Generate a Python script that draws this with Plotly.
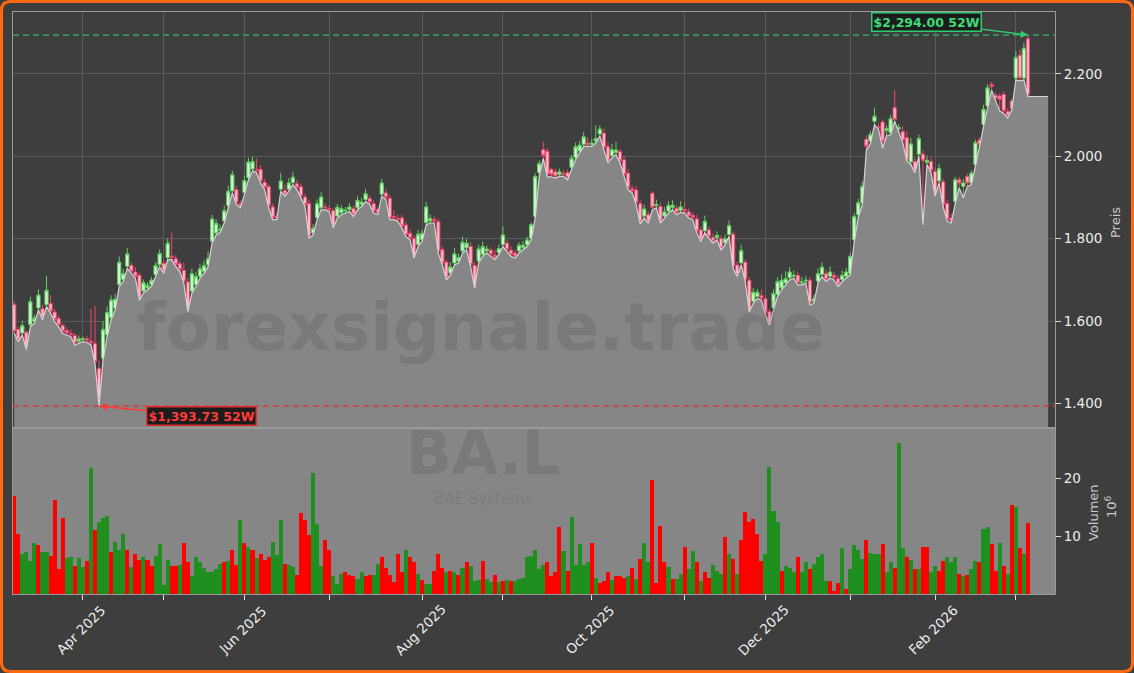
import pandas as pd
import plotly.graph_objects as go

# ---------------- data ----------------
START = "2025-03-07"
UK_HOLIDAYS = ["2025-04-18", "2025-04-21", "2025-05-05", "2025-05-26",
               "2025-08-25", "2025-12-25", "2025-12-26", "2026-01-01"]

# daily lows (the grey area traces them)
low = [
    1571, 1550, 1566, 1531, 1586, 1595, 1627, 1603, 1635, 1619,
    1599, 1586, 1570, 1566, 1562, 1542, 1546, 1550, 1548, 1542,
    1497, 1393.73, 1505, 1562, 1603, 1627, 1684, 1696, 1728, 1716,
    1704, 1651, 1668, 1676, 1684, 1708, 1732, 1716, 1749, 1749,
    1732, 1720, 1692, 1623, 1668, 1684, 1704, 1716, 1732, 1789,
    1809, 1815, 1838, 1875, 1911, 1883, 1875, 1907, 1943, 1964,
    1960, 1935, 1919, 1875, 1846, 1846, 1915, 1903, 1915, 1931,
    1919, 1899, 1878, 1801, 1809, 1846, 1870, 1870, 1866, 1826,
    1850, 1858, 1862, 1866, 1854, 1870, 1878, 1890, 1883, 1862,
    1858, 1903, 1895, 1846, 1846, 1842, 1826, 1805, 1797, 1753,
    1781, 1793, 1834, 1838, 1838, 1765, 1736, 1700, 1712, 1736,
    1741, 1765, 1773, 1732, 1680, 1741, 1757, 1765, 1757, 1749,
    1761, 1781, 1769, 1757, 1753, 1765, 1773, 1781, 1798, 1850,
    1950, 1995, 1950, 1950, 1947, 1951, 1951, 1943, 1968, 1992,
    2008, 2024, 2024, 2024, 2032, 2049, 2016, 1984, 1996, 2004,
    1984, 1951, 1919, 1911, 1882, 1836, 1850, 1838, 1870, 1875,
    1838, 1850, 1862, 1870, 1858, 1864, 1862, 1850, 1846, 1814,
    1793, 1814, 1801, 1789, 1797, 1773, 1785, 1805, 1728, 1708,
    1736, 1696, 1623, 1643, 1655, 1651, 1615, 1590, 1627, 1660,
    1676, 1688, 1700, 1704, 1688, 1688, 1692, 1639, 1643, 1692,
    1708, 1696, 1704, 1700, 1684, 1696, 1704, 1712, 1792, 1852,
    1882, 2015, 2030, 2077, 2065, 2020, 2049, 2052, 2085, 2057,
    2033, 1988, 1980, 1960, 2000, 1834, 1980, 1960, 1903, 1935,
    1878, 1842, 1838, 1885, 1923, 1899, 1927, 1931, 1975, 2022,
    2072, 2115, 2160, 2135, 2110, 2104, 2093, 2112, 2185, 2183,
    2185, 2145,
]
# last value carried over the final sessions (area only, no candles)
low_tail = [2145, 2145, 2145, 2145, 2145]

open_ = [
    1640, 1580, 1571, 1573, 1591, 1600, 1632, 1630, 1640, 1643,
    1622, 1606, 1589, 1577, 1570, 1565, 1551, 1555, 1557, 1551,
    1545, 1485, 1510, 1567, 1608, 1632, 1689, 1701, 1733, 1735,
    1719, 1711, 1673, 1681, 1689, 1713, 1737, 1740, 1754, 1757,
    1751, 1739, 1723, 1695, 1673, 1689, 1709, 1721, 1737, 1794,
    1814, 1820, 1843, 1880, 1916, 1919, 1885, 1912, 1948, 1969,
    1967, 1968, 1937, 1926, 1877, 1854, 1920, 1917, 1920, 1936,
    1933, 1926, 1901, 1885, 1814, 1851, 1875, 1877, 1873, 1868,
    1855, 1863, 1867, 1871, 1873, 1875, 1883, 1895, 1897, 1885,
    1870, 1908, 1911, 1898, 1854, 1849, 1850, 1833, 1813, 1800,
    1786, 1798, 1839, 1843, 1846, 1841, 1773, 1743, 1717, 1741,
    1746, 1770, 1778, 1781, 1735, 1746, 1762, 1770, 1772, 1760,
    1766, 1786, 1789, 1772, 1765, 1770, 1778, 1786, 1801, 1854,
    1960, 2016, 2012, 1968, 1962, 1956, 1958, 1960, 1973, 1997,
    2013, 2029, 2032, 2029, 2037, 2054, 2056, 2023, 2001, 2009,
    2011, 1991, 1959, 1921, 1918, 1885, 1855, 1858, 1910, 1880,
    1878, 1855, 1867, 1875, 1873, 1869, 1871, 1865, 1857, 1848,
    1821, 1819, 1821, 1803, 1802, 1800, 1790, 1810, 1811, 1736,
    1741, 1743, 1699, 1648, 1660, 1662, 1654, 1623, 1632, 1665,
    1681, 1693, 1705, 1709, 1711, 1693, 1697, 1699, 1648, 1697,
    1713, 1715, 1709, 1711, 1703, 1701, 1709, 1716, 1797, 1858,
    1887, 2041, 2037, 2085, 2071, 2083, 2063, 2057, 2118, 2066,
    2060, 2045, 1986, 1987, 2005, 2005, 1985, 1987, 1963, 1940,
    1938, 1885, 1850, 1890, 1943, 1927, 1951, 1935, 1980, 2039,
    2077, 2122, 2174, 2148, 2146, 2150, 2109, 2134, 2190, 2245,
    2190, 2285,
]

close = [
    1576, 1555, 1589, 1536, 1647, 1607, 1663, 1608, 1675, 1624,
    1604, 1591, 1575, 1571, 1567, 1547, 1557, 1557, 1553, 1547,
    1502, 1410, 1580, 1621, 1651, 1653, 1743, 1715, 1763, 1721,
    1709, 1656, 1693, 1687, 1699, 1735, 1764, 1721, 1789, 1754,
    1737, 1725, 1697, 1628, 1715, 1708, 1727, 1735, 1751, 1848,
    1837, 1823, 1868, 1915, 1955, 1888, 1880, 1941, 1986, 1987,
    1965, 1940, 1924, 1880, 1851, 1851, 1940, 1908, 1935, 1949,
    1924, 1904, 1883, 1806, 1825, 1885, 1901, 1875, 1871, 1831,
    1876, 1873, 1869, 1877, 1859, 1893, 1889, 1909, 1888, 1867,
    1863, 1935, 1900, 1851, 1851, 1847, 1831, 1810, 1802, 1758,
    1811, 1813, 1877, 1849, 1843, 1770, 1741, 1705, 1731, 1763,
    1754, 1791, 1789, 1737, 1685, 1775, 1781, 1775, 1762, 1754,
    1776, 1809, 1774, 1762, 1758, 1784, 1784, 1797, 1834, 1951,
    1982, 2002, 1956, 1956, 1952, 1962, 1956, 1948, 1995, 2023,
    2027, 2047, 2029, 2032, 2043, 2066, 2021, 1989, 2016, 2015,
    1989, 1956, 1924, 1916, 1887, 1841, 1872, 1843, 1876, 1883,
    1843, 1865, 1881, 1881, 1863, 1877, 1867, 1855, 1851, 1819,
    1798, 1842, 1806, 1794, 1808, 1778, 1800, 1832, 1733, 1713,
    1771, 1701, 1628, 1670, 1670, 1656, 1620, 1595, 1667, 1696,
    1699, 1703, 1719, 1711, 1693, 1695, 1699, 1644, 1654, 1715,
    1731, 1701, 1719, 1705, 1689, 1711, 1719, 1757, 1854, 1887,
    1927, 2024, 2053, 2097, 2069, 2037, 2067, 2091, 2089, 2070,
    2038, 1990, 2030, 1965, 2043, 1990, 1990, 1965, 1908, 1970,
    1883, 1847, 1843, 1943, 1935, 1935, 1935, 1959, 2033, 2028,
    2114, 2166, 2169, 2140, 2138, 2110, 2098, 2115, 2240, 2190,
    2262, 2150,
]

high = [
    1648, 1586, 1601, 1577, 1659, 1615, 1677, 1640, 1710, 1663,
    1630, 1614, 1595, 1585, 1580, 1571, 1565, 1563, 1565, 1630,
    1637, 1505, 1600, 1636, 1663, 1666, 1757, 1727, 1777, 1743,
    1731, 1717, 1701, 1695, 1707, 1743, 1774, 1748, 1801, 1815,
    1761, 1747, 1743, 1705, 1727, 1720, 1739, 1747, 1769, 1858,
    1847, 1835, 1880, 1929, 1965, 1927, 1893, 1953, 1996, 1999,
    1995, 1978, 1945, 1932, 1885, 1862, 1960, 1931, 1947, 1963,
    1943, 1934, 1909, 1895, 1835, 1895, 1913, 1885, 1881, 1874,
    1884, 1881, 1877, 1887, 1881, 1903, 1899, 1921, 1905, 1893,
    1876, 1945, 1921, 1906, 1868, 1859, 1858, 1841, 1823, 1808,
    1821, 1823, 1889, 1859, 1854, 1849, 1781, 1749, 1743, 1777,
    1764, 1805, 1800, 1791, 1743, 1785, 1793, 1783, 1780, 1774,
    1786, 1830, 1797, 1782, 1773, 1792, 1794, 1805, 1840, 1959,
    1990, 2035, 2020, 1972, 1970, 1970, 1966, 1968, 2003, 2033,
    2037, 2059, 2046, 2042, 2075, 2075, 2068, 2033, 2030, 2035,
    2019, 2001, 1969, 1929, 1928, 1893, 1882, 1866, 1915, 1895,
    1886, 1877, 1891, 1893, 1881, 1891, 1889, 1873, 1863, 1858,
    1829, 1856, 1829, 1813, 1818, 1808, 1810, 1844, 1817, 1744,
    1785, 1749, 1707, 1680, 1678, 1676, 1662, 1631, 1677, 1706,
    1713, 1721, 1731, 1723, 1719, 1707, 1709, 1707, 1664, 1728,
    1743, 1725, 1733, 1721, 1711, 1723, 1729, 1765, 1862, 1897,
    1939, 2050, 2061, 2118, 2080, 2090, 2075, 2100, 2160, 2078,
    2074, 2060, 2045, 1997, 2053, 2015, 2002, 1997, 1973, 1982,
    1946, 1895, 1860, 1950, 1950, 1945, 1958, 1966, 2040, 2045,
    2125, 2175, 2180, 2155, 2152, 2158, 2117, 2140, 2255, 2258,
    2276, 2294.00,
]

# volume in millions of shares; G = up day, R = down day
volume = [
    16.9, 10.4, 7.0, 7.4, 5.8, 8.9, 8.6, 7.4, 7.4, 6.7,
    16.3, 4.4, 13.2, 6.3, 6.6, 5.0, 6.4, 4.8, 5.9, 21.7,
    11.1, 12.6, 13.2, 13.6, 7.4, 9.1, 7.7, 10.4, 7.8, 4.8,
    7.1, 6.1, 6.6, 6.1, 5.0, 6.7, 8.7, 1.7, 6.1, 5.0,
    5.0, 5.2, 9.0, 5.6, 3.2, 6.6, 5.7, 4.6, 3.9, 3.9,
    4.4, 5.4, 5.6, 5.9, 7.8, 5.2, 12.8, 8.9, 8.2, 7.7,
    6.3, 7.0, 6.1, 6.6, 9.1, 6.9, 12.8, 5.3, 5.1, 4.8,
    3.4, 14.0, 12.8, 10.3, 20.9, 12.1, 5.0, 9.5, 7.8, 3.2,
    1.9, 3.7, 4.0, 3.5, 3.2, 2.8, 4.0, 3.2, 3.5, 3.5,
    5.4, 6.6, 4.7, 3.5, 2.2, 7.0, 3.9, 7.7, 6.6, 5.6,
    3.7, 2.6, 1.9, 1.9, 4.2, 7.1, 4.7, 3.9, 4.2, 3.9,
    3.5, 4.6, 5.6, 5.0, 2.5, 2.6, 5.8, 2.8, 2.2, 3.5,
    2.2, 2.5, 2.6, 2.5, 2.5, 2.8, 2.9, 6.6, 6.7, 7.8,
    4.5, 5.2, 5.6, 3.2, 4.0, 11.6, 7.6, 4.2, 13.3, 5.1,
    8.7, 5.2, 5.6, 9.0, 3.0, 2.1, 2.5, 3.9, 2.6, 3.2,
    3.3, 3.0, 3.3, 4.7, 2.8, 6.2, 9.0, 5.7, 19.7, 2.1,
    11.8, 5.7, 4.9, 2.8, 2.8, 3.7, 8.3, 4.5, 7.6, 5.6,
    2.5, 4.0, 3.0, 5.2, 4.2, 3.7, 10.0, 7.0, 6.2, 3.7,
    9.4, 14.2, 12.5, 13.1, 10.5, 5.9, 7.0, 21.9, 14.4, 12.5,
    4.2, 5.0, 4.7, 3.9, 6.6, 3.9, 5.6, 4.5, 5.3, 6.6,
    7.0, 2.5, 2.5, 0.65, 2.1, 8.0, 1.1, 4.5, 8.5, 7.8,
    6.2, 9.5, 7.3, 7.1, 7.1, 8.8, 4.0, 5.7, 4.7, 26.0,
    8.0, 6.6, 6.0, 4.4, 4.5, 8.3, 8.3, 4.0, 5.0, 4.2,
    5.9, 6.6, 5.6, 6.6, 3.7, 3.3, 3.5, 4.4, 5.9, 5.7,
    11.4, 11.6, 8.8, 4.2, 9.0, 5.0, 3.7, 15.4, 15.0, 8.0,
    7.0, 12.3,
]
volume_dir = (
    "RRGGGGRGGR" "RRRGGRGGRG" "RGGGRGGGRG" "RRGRRGGGGR" "RGRRGGGGGG"
    "GGRGRRGRGR" "GRRRGGGRGG" "RRRRGGGRRG" "GGRRRGGRRG" "GRRRRRRGRR"
    "GRGGRRRGRG" "RGRGGGRGGR" "GRGRGGGGGG" "GGRRRRGRGG" "GGGRGRRRGR"
    "RRGRGRGGRR" "RRGRGGRGGR" "GRRGGGRGRG" "RRRRRRGGGG" "RGGGRGGRGG"
    "GGRRRGRGGG" "GRGGGRGGRG" "GRGRGRRGGR" "RGGGRGRGGR" "GGRRGRGRGR"
    "GR"
)

price_ticks = [1400, 1600, 1800, 2000, 2200]
price_tick_text = ["1.400", "1.600", "1.800", "2.000", "2.200"]
volume_ticks = [10, 20]
ticker = "BA.L"
company = "BAE Systems"
watermark = "forexsignale.trade"

# ---------------- derived ----------------
n = len(close)
low_all = low + low_tail
dates = pd.bdate_range(start=START, periods=len(low_all), freq="C",
                       holidays=UK_HOLIDAYS)
idx = list(range(n))
idx_all = list(range(len(low_all)))

month_idx, lab_idx, lab_txt = [], [], []
for i in range(1, len(dates)):
    if dates[i].month != dates[i - 1].month:
        month_idx.append(i)
        if dates[i].month % 2 == 0:
            lab_idx.append(i)
            lab_txt.append(dates[i].strftime("%b %Y"))

GREEN_V, RED_V = "#1f901f", "#ff0000"
vol_colors = [GREEN_V if d == "G" else RED_V for d in volume_dir]

lo_i = min(range(n), key=lambda i: low[i])
hi_i = max(range(n), key=lambda i: high[i])
lo_v, hi_v = low[lo_i], high[hi_i]

# ---------------- layout geometry ----------------
W, H = 1134, 673
ML, MR, MT, MB = 13, 79, 12, 79
PW, PH = W - ML - MR, H - MT - MB
SPLIT = (594 - 428) / PH
XR = [-0.3, 257.7]
FONT = "DejaVu Sans"
BG = "#3e3e3e"
AREA = "#868686"
GRID = "#5b5b5b"
SPINE = "#9a9a9a"


def px(xp, yp):
    return f"{(xp - ML) / PW:.5f},{(H - MB - yp) / PH:.5f}"


def paper(xp, yp):
    return (xp - ML) / PW, (H - MB - yp) / PH


fig = go.Figure()
fig.add_trace(go.Scatter(
    x=idx_all, y=low_all, mode="lines",
    line=dict(color="#d4d4d4", width=1.2),
    fill="tozeroy", fillcolor=AREA, hoverinfo="skip",
    xaxis="x", yaxis="y"))
fig.add_trace(go.Candlestick(
    x=idx, open=open_, high=high, low=low, close=close,
    increasing=dict(line=dict(color="#5ed35e", width=1), fillcolor="#d3f3d3"),
    decreasing=dict(line=dict(color="#f2456e", width=1), fillcolor="#ffb8c6"),
    whiskerwidth=0, xaxis="x", yaxis="y"))
fig.add_trace(go.Bar(
    x=idx, y=volume, width=1.0,
    marker=dict(color=vol_colors, line=dict(width=0)),
    xaxis="x2", yaxis="y2"))

tickfont = dict(family=FONT, size=13.5, color="#ececec")
fig.update_layout(
    width=W, height=H, margin=dict(l=ML, r=MR, t=MT, b=MB, autoexpand=False),
    paper_bgcolor=BG, plot_bgcolor=BG, showlegend=False,
    bargap=0, boxgap=0.2, boxgroupgap=0, font=dict(family=FONT),
    xaxis=dict(domain=[0, 1], anchor="y", range=XR, tickvals=month_idx,
               showticklabels=False, ticks="", showgrid=True, gridcolor=GRID,
               gridwidth=1, zeroline=False, showline=True, linecolor=SPINE,
               mirror=True, rangeslider=dict(visible=False)),
    yaxis=dict(domain=[SPLIT, 1], anchor="x", side="right",
               range=[1340.6, 2350], tickvals=price_ticks, ticktext=price_tick_text,
               ticks="outside", ticklen=5, tickcolor="#dddddd", tickfont=tickfont,
               showgrid=True, gridcolor=GRID, gridwidth=1, zeroline=False,
               showline=True, linecolor=SPINE, mirror=True),
    xaxis2=dict(domain=[0, 1], anchor="y2", range=XR, tickvals=month_idx,
                showticklabels=False, ticks="outside", ticklen=5,
                tickcolor="#dddddd", showgrid=False,
                zeroline=False, showline=True, linecolor=SPINE, mirror=True),
    yaxis2=dict(domain=[0, SPLIT], anchor="x2", side="right", range=[0.2, 28.6],
                tickvals=volume_ticks, ticks="outside", ticklen=5,
                tickcolor="#dddddd", tickfont=tickfont, showgrid=False,
                zeroline=False, showline=True, linecolor=SPINE, mirror=True),
)

shapes = [
    dict(type="rect", xref="x2 domain", yref="y2 domain", x0=0, x1=1, y0=0, y1=1,
         fillcolor=AREA, line=dict(width=0), layer="below"),
    dict(type="line", xref="x domain", yref="y", x0=0, x1=1, y0=hi_v, y1=hi_v,
         line=dict(color="#35a862", width=1.5, dash="6px,4px"), layer="above"),
    dict(type="line", xref="x domain", yref="y", x0=0, x1=1, y0=lo_v, y1=lo_v,
         line=dict(color="#d83a3a", width=1.5, dash="6px,4px"), layer="above"),
]
r = 9
x0, y0, x1, y1 = 1.5, 1.5, 1132.5, 671.5
border = (f"M {px(x0 + r, y0)} L {px(x1 - r, y0)} Q {px(x1, y0)} {px(x1, y0 + r)} "
          f"L {px(x1, y1 - r)} Q {px(x1, y1)} {px(x1 - r, y1)} "
          f"L {px(x0 + r, y1)} Q {px(x0, y1)} {px(x0, y1 - r)} "
          f"L {px(x0, y0 + r)} Q {px(x0, y0)} {px(x0 + r, y0)} Z")
shapes.append(dict(type="path", xref="paper", yref="paper", path=border,
                   line=dict(color="#ff6a10", width=3), fillcolor="rgba(0,0,0,0)",
                   layer="above"))
fig.update_layout(shapes=shapes)

ann = []
# rotated month labels, centred under their tick like the original
_, lab_y = paper(0, 630)
for i, t in zip(lab_idx, lab_txt):
    ann.append(dict(xref="x2", yref="paper", x=i - 0.5, y=lab_y, text=t, textangle=-45,
                    showarrow=False, font=tickfont, xanchor="center", yanchor="middle"))

wx, wy = paper(481, 327)
ann.append(dict(xref="paper", yref="paper", x=wx, y=wy, text=f"<b>{watermark}</b>",
                showarrow=False, font=dict(family=FONT, size=66, color="rgba(0,0,0,0.09)"),
                xanchor="center", yanchor="middle"))
bx, by = paper(483, 489)
ann.append(dict(xref="paper", yref="paper", x=bx, y=by, text=f"<b>{ticker}</b>",
                showarrow=False, font=dict(family=FONT, size=60, color="rgba(0,0,0,0.09)"),
                xanchor="center", yanchor="bottom", borderpad=0))
cx, cy = paper(483, 489)
ann.append(dict(xref="paper", yref="paper", x=cx, y=cy, text=company,
                showarrow=False, font=dict(family=FONT, size=15, color="rgba(0,0,0,0.09)"),
                xanchor="center", yanchor="top", borderpad=0))

ax_ = dict(family=FONT, size=13, color="#c8c8c8")
tx, ty = paper(1115, 223)
ann.append(dict(xref="paper", yref="paper", x=tx, y=ty, text="Preis", textangle=-90,
                showarrow=False, font=ax_, xanchor="center", yanchor="middle"))
tx, ty = paper(1093, 513)
ann.append(dict(xref="paper", yref="paper", x=tx, y=ty, text="Volumen", textangle=-90,
                showarrow=False, font=ax_, xanchor="center", yanchor="middle"))
tx, ty = paper(1111, 507)
ann.append(dict(xref="paper", yref="paper", x=tx, y=ty, text="10<sup>6</sup>", textangle=-90,
                showarrow=False, font=ax_, xanchor="center", yanchor="middle"))

ann.append(dict(x=lo_i, y=lo_v, xref="x", yref="y",
                text=f"<b>${lo_v:,.2f} 52W</b>", showarrow=True, arrowhead=2,
                arrowsize=1, arrowwidth=1.5, arrowcolor="#ff3b3b", ax=102, ay=10,
                font=dict(family=FONT, size=12.5, color="#ff3b3b"),
                bgcolor="#1c1c1c", bordercolor="#e03030", borderwidth=1.5, borderpad=1))
ann.append(dict(x=hi_i, y=hi_v, xref="x", yref="y",
                text=f"<b>${hi_v:,.2f} 52W</b>", showarrow=True, arrowhead=2,
                arrowsize=1, arrowwidth=1.5, arrowcolor="#2ecc71", ax=-101, ay=-13,
                font=dict(family=FONT, size=12.5, color="#3ddc77"),
                bgcolor="#1c1c1c", bordercolor="#2ecc71", borderwidth=1.5, borderpad=1))
fig.update_layout(annotations=ann)

fig.write_html("out.html", config={"displayModeBar": False},
               post_script="document.body.style.margin='0';document.body.style.padding='0';")
